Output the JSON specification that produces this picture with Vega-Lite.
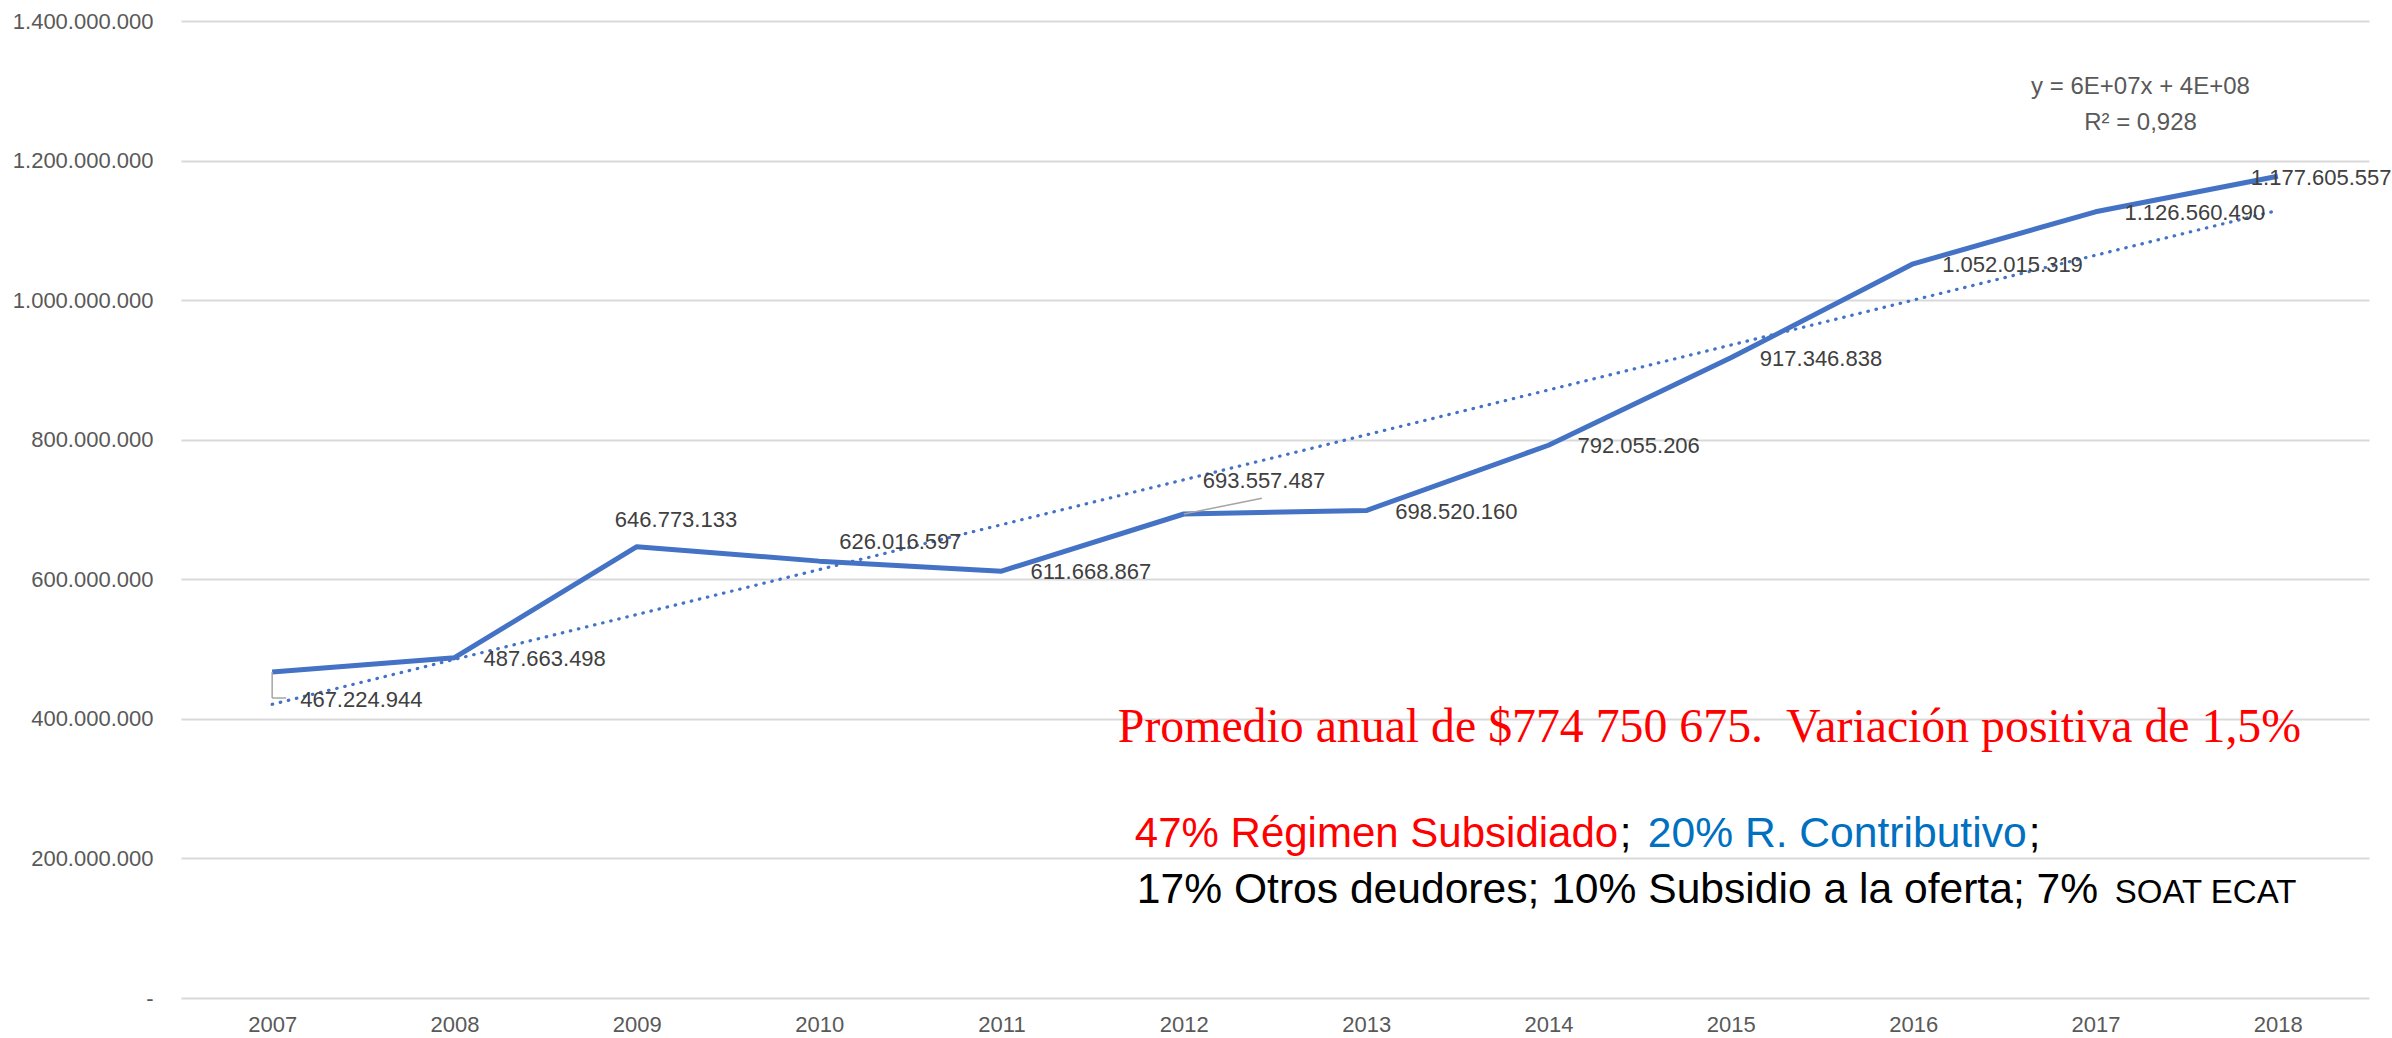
{
  "$schema": "https://vega.github.io/schema/vega-lite/v6.json",
  "width": 2188,
  "height": 977,
  "autosize": {"type": "none"},
  "padding": {"left": 181, "top": 21, "right": 23, "bottom": 40},
  "background": "white",
  "config": {
    "locale": {"number": {"decimal": ",", "thousands": ".", "grouping": [3], "currency": ["$", ""]}},
    "view": {"stroke": null},
    "font": "Liberation Sans"
  },
  "data": {
    "values": [
      {"year": 2007, "value": 467224944},
      {"year": 2008, "value": 487663498},
      {"year": 2009, "value": 646773133},
      {"year": 2010, "value": 626016597},
      {"year": 2011, "value": 611668867},
      {"year": 2012, "value": 693557487},
      {"year": 2013, "value": 698520160},
      {"year": 2014, "value": 792055206},
      {"year": 2015, "value": 917346838},
      {"year": 2016, "value": 1052015319},
      {"year": 2017, "value": 1126560490},
      {"year": 2018, "value": 1177605557}
    ]
  },
  "encoding": {
    "x": {
      "field": "year",
      "type": "ordinal",
      "scale": {"type": "point", "padding": 0.5},
      "axis": {"title": null, "labelAngle": 0, "ticks": false, "domain": false, "grid": false, "labelColor": "#595959", "labelFontSize": 22, "labelFont": "Liberation Sans", "labelPadding": 16}
    },
    "y": {
      "field": "value",
      "type": "quantitative",
      "scale": {"domain": [0, 1400000000], "nice": false},
      "axis": {"title": null, "values": [0, 200000000, 400000000, 600000000, 800000000, 1000000000, 1200000000, 1400000000], "format": ",d", "labelExpr": "datum.value === 0 ? '-' : datum.label", "ticks": false, "domain": false, "gridColor": "#D9D9D9", "gridWidth": 2, "labelColor": "#595959", "labelFontSize": 22, "labelFont": "Liberation Sans", "labelPadding": 28}
    }
  },
  "layer": [
    {
      "transform": [{"regression": "value", "on": "year"}],
      "mark": {"type": "line", "color": "#4472C4", "strokeWidth": 3.2, "strokeDash": [0.5, 7.8], "strokeCap": "round"}
    },
    {
      "mark": {"type": "line", "color": "#4472C4", "strokeWidth": 5, "strokeJoin": "round"}
    },
    {
      "transform": [{"filter": "datum.year == 2007"}],
      "mark": {"type": "rule", "color": "#A5A5A5", "strokeWidth": 1.5},
      "encoding": {"y2": {"datum": 429900000}}
    },
    {
      "transform": [{"filter": "datum.year == 2007"}],
      "mark": {"type": "rule", "color": "#A5A5A5", "strokeWidth": 1.5, "x2Offset": 14},
      "encoding": {"x2": {"field": "year"}, "y": {"datum": 429900000, "type": "quantitative"}, "y2": {"datum": 429900000}}
    },
    {
      "transform": [{"filter": "datum.year == 2012"}],
      "mark": {"type": "rule", "color": "#A5A5A5", "strokeWidth": 1.5, "x2Offset": 78},
      "encoding": {"x2": {"field": "year"}, "y2": {"datum": 716000000}}
    },
    {
      "transform": [{"filter": "indexof([2007, 2009, 2010, 2012, 2018], datum.year) < 0"}],
      "mark": {"type": "text", "align": "left", "baseline": "middle", "dx": 29, "dy": 1, "fontSize": 22, "color": "#404040"},
      "encoding": {"text": {"field": "value", "type": "quantitative", "format": ",d"}}
    },
    {
      "transform": [{"filter": "datum.year == 2007"}],
      "mark": {"type": "text", "align": "left", "baseline": "middle", "dx": 28, "dy": 28, "fontSize": 22, "color": "#404040"},
      "encoding": {"text": {"field": "value", "type": "quantitative", "format": ",d"}}
    },
    {
      "transform": [{"filter": "datum.year == 2009"}],
      "mark": {"type": "text", "align": "left", "baseline": "middle", "dx": -22, "dy": -27, "fontSize": 22, "color": "#404040"},
      "encoding": {"text": {"field": "value", "type": "quantitative", "format": ",d"}}
    },
    {
      "transform": [{"filter": "datum.year == 2010"}],
      "mark": {"type": "text", "align": "left", "baseline": "middle", "dx": 20, "dy": -19, "fontSize": 22, "color": "#404040"},
      "encoding": {"text": {"field": "value", "type": "quantitative", "format": ",d"}}
    },
    {
      "transform": [{"filter": "datum.year == 2012"}],
      "mark": {"type": "text", "align": "left", "baseline": "middle", "dx": 19, "dy": -33, "fontSize": 22, "color": "#404040"},
      "encoding": {"text": {"field": "value", "type": "quantitative", "format": ",d"}}
    },
    {
      "transform": [{"filter": "datum.year == 2018"}],
      "mark": {"type": "text", "align": "left", "baseline": "middle", "dx": -27, "dy": 2, "fontSize": 22, "color": "#404040"},
      "encoding": {"text": {"field": "value", "type": "quantitative", "format": ",d"}}
    },
    {
      "transform": [{"filter": "datum.year == 2017"}],
      "mark": {"type": "text", "text": "y = 6E+07x + 4E+08", "align": "center", "baseline": "alphabetic", "dx": 45, "fontSize": 24, "color": "#595959"},
      "encoding": {"y": {"datum": 1295000000, "type": "quantitative"}}
    },
    {
      "transform": [{"filter": "datum.year == 2017"}],
      "mark": {"type": "text", "text": "R² = 0,928", "align": "center", "baseline": "alphabetic", "dx": 45, "fontSize": 24, "color": "#595959"},
      "encoding": {"y": {"datum": 1243800000, "type": "quantitative"}}
    },
    {
      "transform": [{"filter": "datum.year == 2012"}],
      "mark": {"type": "text", "text": "Promedio anual de $774 750 675.\u00a0 Variación positiva de 1,5%", "align": "left", "baseline": "alphabetic", "dx": -66, "font": "Liberation Serif", "fontSize": 47.8, "color": "#FF0000"},
      "encoding": {"y": {"datum": 366800000, "type": "quantitative"}}
    },
    {
      "transform": [{"filter": "datum.year == 2012"}],
      "mark": {"type": "text", "text": "47% Régimen Subsidiado", "align": "left", "baseline": "alphabetic", "dx": -49, "fontSize": 42, "color": "#FF0000"},
      "encoding": {"y": {"datum": 216800000, "type": "quantitative"}}
    },
    {
      "transform": [{"filter": "datum.year == 2012"}],
      "mark": {"type": "text", "text": ";", "align": "left", "baseline": "alphabetic", "dx": 436, "fontSize": 42, "color": "#000000"},
      "encoding": {"y": {"datum": 216800000, "type": "quantitative"}}
    },
    {
      "transform": [{"filter": "datum.year == 2012"}],
      "mark": {"type": "text", "text": "20% R. Contributivo", "align": "left", "baseline": "alphabetic", "dx": 464, "fontSize": 42.6, "color": "#0070C0"},
      "encoding": {"y": {"datum": 216800000, "type": "quantitative"}}
    },
    {
      "transform": [{"filter": "datum.year == 2012"}],
      "mark": {"type": "text", "text": ";", "align": "left", "baseline": "alphabetic", "dx": 845, "fontSize": 42, "color": "#000000"},
      "encoding": {"y": {"datum": 216800000, "type": "quantitative"}}
    },
    {
      "transform": [{"filter": "datum.year == 2012"}],
      "mark": {"type": "text", "text": "17% Otros deudores; 10% Subsidio a la oferta; 7%", "align": "left", "baseline": "alphabetic", "dx": -47, "fontSize": 42.6, "color": "#000000"},
      "encoding": {"y": {"datum": 135700000, "type": "quantitative"}}
    },
    {
      "transform": [{"filter": "datum.year == 2012"}],
      "mark": {"type": "text", "text": "SOAT ECAT", "align": "left", "baseline": "alphabetic", "dx": 931, "fontSize": 33, "color": "#000000"},
      "encoding": {"y": {"datum": 135700000, "type": "quantitative"}}
    }
  ]
}
